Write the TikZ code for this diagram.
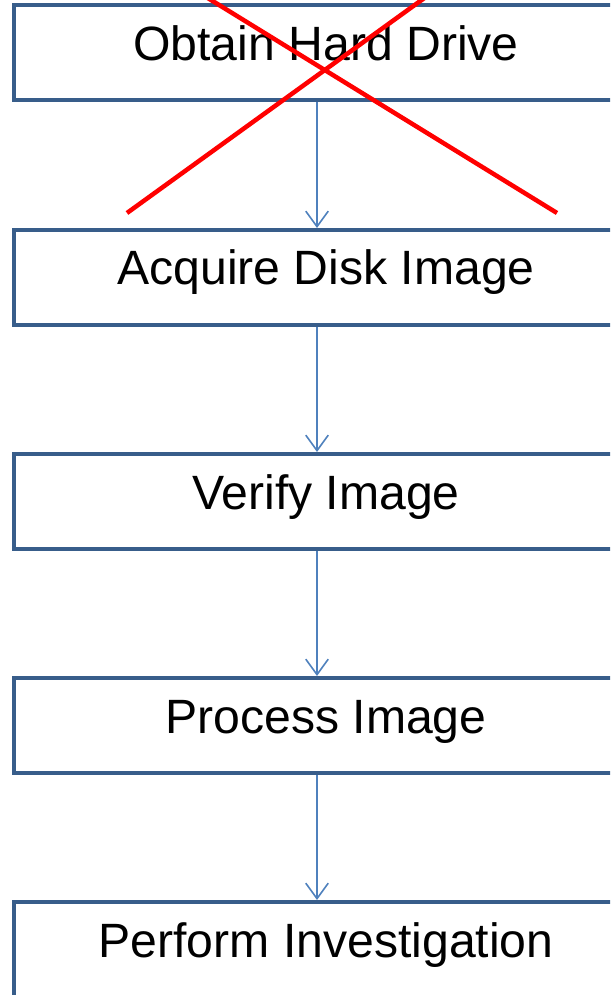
\documentclass[tikz,border=0pt]{standalone}
\usepackage{fontspec}
\setmainfont{Liberation Sans}
\usetikzlibrary{arrows.meta}
\definecolor{boxblue}{RGB}{56,93,138}
\definecolor{arrowblue}{RGB}{79,129,189}

\begin{document}
\begin{tikzpicture}[
		stepbox/.style={draw=boxblue, line width=0.08cm, fill=white, minimum width=12.48cm, minimum height=1.9cm,
			inner sep=0pt, text height=0.7cm, text depth=0.4cm, font=\fontsize{27.4}{32}\selectfont},
		flow/.style={draw=arrowblue, line width=0.032cm, -{Straight Barb[length=0.31cm, width=0.45cm]}},
		cross/.style={draw=red, line width=0.09cm}]
	\useasboundingbox (0,0) rectangle (12.2,-19.9);
	\clip (0,0) rectangle (12.2,-19.9);

	\node[stepbox] (obtain) at (6.52,-1.06) {Obtain Hard Drive};
	\node[stepbox] (acquire) at (6.52,-5.55) {Acquire Disk Image};
	\node[stepbox] (verify) at (6.52,-10.03) {Verify Image};
	\node[stepbox] (process) at (6.52,-14.51) {Process Image};
	\node[stepbox] (perform) at (6.52,-18.99) {Perform Investigation};

	\draw[flow] ([xshift=-0.18cm]obtain.south) -- ([xshift=-0.18cm]acquire.north);
	\draw[flow] ([xshift=-0.18cm]acquire.south) -- ([xshift=-0.18cm]verify.north);
	\draw[flow] ([xshift=-0.18cm]verify.south) -- ([xshift=-0.18cm]process.north);
	\draw[flow] ([xshift=-0.18cm]process.south) -- ([xshift=-0.18cm]perform.north);

	% crossed out step
	\coordinate (crossA1) at (2.54,-4.26);
	\coordinate (crossA2) at (9.54,0.8);
	\coordinate (crossB1) at (11.14,-4.26);
	\coordinate (crossB2) at (2.92,0.8);
	\draw[cross] (crossA1) -- (crossA2);
	\draw[cross] (crossB1) -- (crossB2);
\end{tikzpicture}
\end{document}
